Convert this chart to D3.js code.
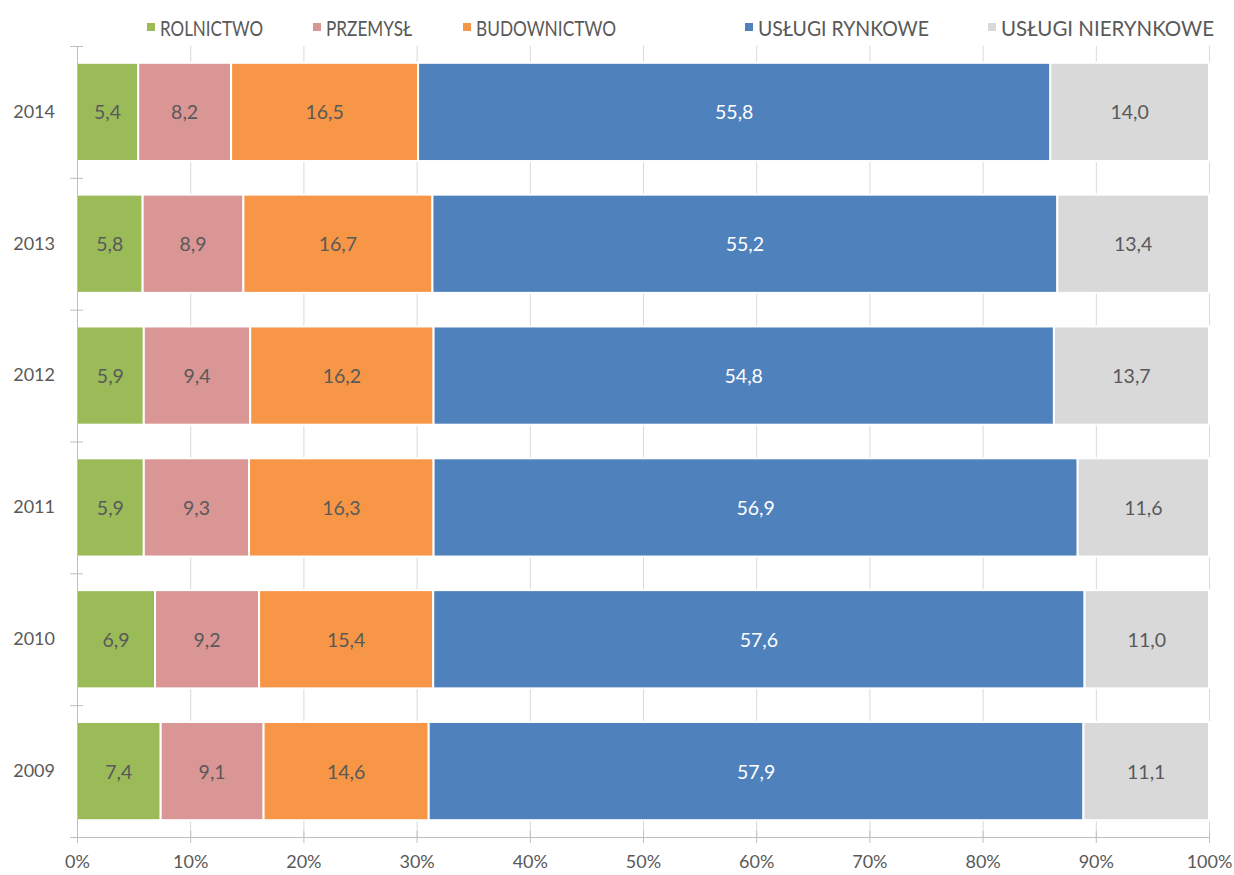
<!DOCTYPE html>
<html><head><meta charset="utf-8">
<script src="https://cdn.jsdelivr.net/npm/d3@7"></script>
<style>
html,body{margin:0;padding:0;background:#fff;}
text{font-family:"Lato","Open Sans",sans-serif;}
</style></head>
<body><svg id="c" width="1234" height="875"></svg>
<script>
const years = ["2014","2013","2012","2011","2010","2009"];
const seriesNames = ["ROLNICTWO","PRZEMYSŁ","BUDOWNICTWO","USŁUGI RYNKOWE","USŁUGI NIERYNKOWE"];
const seriesColors = ["#9BBB59","#D99694","#F79646","#4F81BD","#D9D9D9"];
const labelColors = ["#595959","#595959","#595959","#ffffff","#595959"];
const rolnictwo = [5.4,5.8,5.9,5.9,6.9,7.4];
const przemysl = [8.2,8.9,9.4,9.3,9.2,9.1];
const budownictwo = [16.5,16.7,16.2,16.3,15.4,14.6];
const uslugiRynkowe = [55.8,55.2,54.8,56.9,57.6,57.9];
const uslugiNierynkowe = [14.0,13.4,13.7,11.6,11.0,11.1];
const xTicks = [0,0.1,0.2,0.3,0.4,0.5,0.6,0.7,0.8,0.9,1.0];
const xTickLabels = ["0%","10%","20%","30%","40%","50%","60%","70%","80%","90%","100%"];

const seriesVals = [rolnictwo,przemysl,budownictwo,uslugiRynkowe,uslugiNierynkowe];
const rows = years.map((y,i)=>{
  const r = {year:y};
  const tot = d3.sum(seriesVals, s=>s[i]);
  seriesNames.forEach((n,k)=>{ r[n] = seriesVals[k][i]/tot; r[n+"_raw"] = seriesVals[k][i]; });
  return r;
});
const stack = d3.stack().keys(seriesNames)(rows);

const svg = d3.select("#c");
const pL = 77, pR = 1209, pT = 46, pB = 837;
const x = d3.scaleLinear().domain([0,1]).range([pL,pR]);
const y = d3.scaleBand().domain(years).range([pT,pB]).paddingInner(0.255).paddingOuter(0.1275);
const yOuter = d3.scaleBand().domain(years).range([pT,pB]);

// gridlines
svg.append("g").selectAll("line").data(xTicks.slice(1)).join("line")
  .attr("x1",d=>x(d)+0.5).attr("x2",d=>x(d)+0.5).attr("y1",pT).attr("y2",pB)
  .attr("stroke","#d9d9d9").attr("stroke-width",1);

// bars
const g = svg.append("g");
stack.forEach((layer,k)=>{
  const lg = g.append("g");
  lg.selectAll("rect").data(layer).join("rect")
    .attr("x",d=>x(d[0])).attr("width",d=>x(d[1])-x(d[0]))
    .attr("y",d=>y(d.data.year)).attr("height",y.bandwidth())
    .attr("fill",seriesColors[k]).attr("stroke","#fff").attr("stroke-width",2);
  lg.selectAll("text").data(layer).join("text")
    .attr("x",d=>(x(d[0])+x(d[1]))/2).attr("y",d=>y(d.data.year)+y.bandwidth()/2)
    .attr("text-anchor","middle").attr("dominant-baseline","central")
    .attr("font-size",19.5).attr("fill",labelColors[k])
    .text(d=>d3.format(".1f")(d.data[seriesNames[k]+"_raw"]).replace(".",","));
});

// x axis
const xa = svg.append("g").attr("transform",`translate(0,${pB})`)
  .call(d3.axisBottom(x).tickValues(xTicks).tickFormat((d,i)=>xTickLabels[i]).tickSize(6).tickPadding(12));
xa.select(".domain").attr("stroke","#bfbfbf").attr("d",`M${pL-7},0.5H${pR}`);
xa.selectAll(".tick line").attr("stroke","#bfbfbf").attr("y1",-6);
xa.selectAll(".tick text").attr("font-size",18).attr("fill","#595959").attr("font-family","Lato,'Open Sans',sans-serif");

// y axis
const ya = svg.append("g").attr("transform",`translate(${pL},0)`)
  .call(d3.axisLeft(y).tickSize(0).tickPadding(22));
ya.select(".domain").attr("stroke","#bfbfbf").attr("d",`M0.5,${pT}V${pB}`);
ya.selectAll(".tick text").attr("font-size",18).attr("fill","#595959").attr("font-family","Lato,'Open Sans',sans-serif");
const bounds = years.map(yy=>yOuter(yy)).concat([pB]);
svg.append("g").selectAll("line").data(bounds).join("line")
  .attr("x1",pL-7).attr("x2",pL+6).attr("y1",d=>d+0.5).attr("y2",d=>d+0.5)
  .attr("stroke","#bfbfbf");

// legend
const legX = [147,313,463,745,988];
const legW = [103,86,140,171,213];
const leg = svg.append("g");
seriesNames.forEach((n,k)=>{
  leg.append("rect").attr("x",legX[k]).attr("y",23).attr("width",8).attr("height",8).attr("fill",seriesColors[k]);
  leg.append("text").attr("x",legX[k]+13).attr("y",27).attr("dominant-baseline","central")
    .attr("font-size",21).attr("fill","#595959").text(n)
    .attr("textLength", legW[k]).attr("lengthAdjust","spacingAndGlyphs");
});
</script></body></html>
